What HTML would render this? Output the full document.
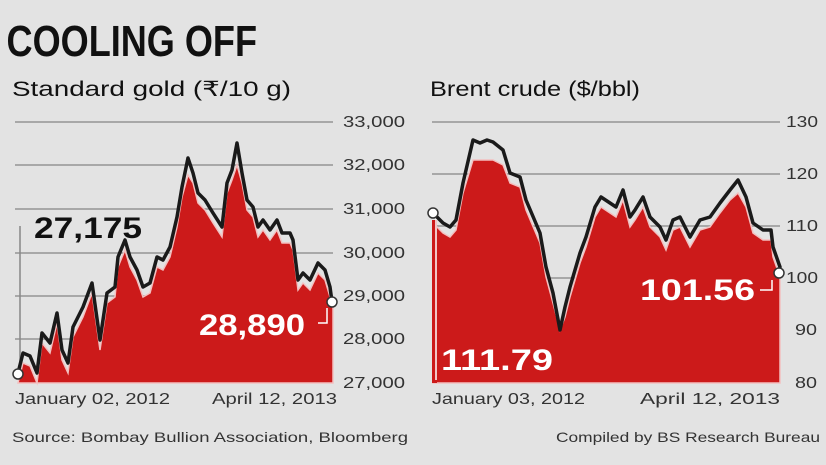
<!DOCTYPE html>
<html><head><style>
body{margin:0;background:#e3e3e3;}
svg{display:block;font-family:"Liberation Sans",sans-serif;}
</style></head><body>
<svg width="826" height="465" viewBox="0 0 826 465">
<rect width="826" height="465" fill="#e3e3e3"/>
<text x="8" y="56" font-size="44" font-weight="bold" fill="#111" transform="scale(0.82,1)">COOLING OFF</text>
<text x="12" y="96" font-size="21" fill="#111" textLength="279" lengthAdjust="spacingAndGlyphs">Standard gold (₹/10 g)</text>
<text x="430" y="96" font-size="21" fill="#111" textLength="210" lengthAdjust="spacingAndGlyphs">Brent crude ($/bbl)</text>
<g stroke="#a8a8a8" stroke-width="2">
<line x1="15" y1="122" x2="333" y2="122"/><line x1="15" y1="165" x2="333" y2="165"/><line x1="15" y1="209" x2="333" y2="209"/><line x1="15" y1="253" x2="333" y2="253"/><line x1="15" y1="296" x2="333" y2="296"/><line x1="15" y1="339" x2="333" y2="339"/>
<line x1="432" y1="122" x2="780" y2="122"/><line x1="432" y1="174" x2="780" y2="174"/><line x1="432" y1="226" x2="780" y2="226"/><line x1="432" y1="278" x2="780" y2="278"/><line x1="432" y1="330" x2="780" y2="330"/>
</g>
<line x1="20" y1="226" x2="20" y2="370" stroke="#888" stroke-width="1.5"/>
<g font-size="16" fill="#333">
<text x="343" y="127" textLength="62" lengthAdjust="spacingAndGlyphs">33,000</text><text x="343" y="170" textLength="62" lengthAdjust="spacingAndGlyphs">32,000</text><text x="343" y="214" textLength="62" lengthAdjust="spacingAndGlyphs">31,000</text><text x="343" y="258" textLength="62" lengthAdjust="spacingAndGlyphs">30,000</text><text x="343" y="301" textLength="62" lengthAdjust="spacingAndGlyphs">29,000</text><text x="343" y="344" textLength="62" lengthAdjust="spacingAndGlyphs">28,000</text><text x="343" y="388" textLength="62" lengthAdjust="spacingAndGlyphs">27,000</text>
<text x="786" y="127" textLength="32" lengthAdjust="spacingAndGlyphs">130</text><text x="786" y="179" textLength="32" lengthAdjust="spacingAndGlyphs">120</text><text x="786" y="231" textLength="32" lengthAdjust="spacingAndGlyphs">110</text><text x="786" y="283" textLength="32" lengthAdjust="spacingAndGlyphs">100</text><text x="795" y="335" textLength="22" lengthAdjust="spacingAndGlyphs">90</text><text x="795" y="388" textLength="22" lengthAdjust="spacingAndGlyphs">80</text>
<text x="15" y="404" textLength="155" lengthAdjust="spacingAndGlyphs">January 02, 2012</text><text x="212" y="404" textLength="125" lengthAdjust="spacingAndGlyphs">April 12, 2013</text>
<text x="432" y="404" textLength="153" lengthAdjust="spacingAndGlyphs">January 03, 2012</text><text x="640" y="404" textLength="140" lengthAdjust="spacingAndGlyphs">April 12, 2013</text>
</g>
<g font-size="14" fill="#333">
<text x="12" y="442" textLength="396" lengthAdjust="spacingAndGlyphs">Source: Bombay Bullion Association, Bloomberg</text>
<text x="556" y="442" textLength="264" lengthAdjust="spacingAndGlyphs">Compiled by BS Research Bureau</text>
</g>
<polygon transform="translate(0,10)" fill="#cc1a1a" stroke="#f3c0c0" stroke-width="1.5" points="18,373 23,353 30,356 37,373 42,333 50,343 57,313 62,350 68,363 73,327 83,307 92,283 100,340 107,293 115,287 118,257 125,240 130,257 137,270 143,287 150,283 157,257 163,260 170,247 177,217 182,187 188,165 193,173 198,193 205,200 213,213 222,227 227,183 232,170 237,155 242,173 247,200 253,207 258,227 263,220 270,230 277,220 282,233 290,233 293,240 298,280 303,273 310,280 318,263 325,270 330,287 333,290 333,373 18,373"/>
<polyline fill="none" stroke="#1a1a1a" stroke-width="3.5" stroke-linejoin="round" points="18,373 23,353 30,356 37,373 42,333 50,343 57,313 62,350 68,363 73,327 83,307 92,283 100,340 107,293 115,287 118,257 125,240 130,257 137,270 143,287 150,283 157,257 163,260 170,247 177,217 182,187 188,158 193,173 198,193 205,200 213,213 222,227 227,183 232,170 237,143 242,173 247,200 253,207 258,227 263,220 270,230 277,220 282,233 290,233 293,240 298,280 303,273 310,280 318,263 325,270 330,287 332,302"/>
<circle cx="18" cy="374" r="5" fill="#fff" stroke="#333" stroke-width="1.5"/>
<circle cx="332" cy="302" r="5" fill="#fff" stroke="#333" stroke-width="1.5"/>
<polyline points="318,323 327,323 327,308" fill="none" stroke="#fff" stroke-width="1.5"/>
<text x="34" y="238" font-size="30" font-weight="bold" fill="#111" textLength="108" lengthAdjust="spacingAndGlyphs">27,175</text>
<text x="199" y="335" font-size="30" font-weight="bold" fill="#fff" textLength="106" lengthAdjust="spacingAndGlyphs">28,890</text>
<polygon transform="translate(0,10)" fill="#cc1a1a" stroke="#f3c0c0" stroke-width="1.5" points="433,213 443,223 450,227 456,220 463,183 473,150 480,150 493,150 503,155 510,173 520,177 526,200 540,233 546,267 553,293 560,320 565,307 570,287 580,253 586,237 595,207 601,197 610,203 616,207 623,190 630,217 635,210 643,197 650,217 660,227 666,240 673,220 680,217 690,237 700,220 710,217 720,203 730,190 738,183 746,197 753,223 763,230 771,230 773,247 780,267 780,373 433,373"/>
<rect x="432" y="220" width="5" height="163" fill="#cc1a1a"/>
<line x1="436" y1="215" x2="436" y2="380" stroke="#fff" stroke-width="1.5"/>
<polyline fill="none" stroke="#1a1a1a" stroke-width="3.5" stroke-linejoin="round" points="433,213 443,223 450,227 456,220 463,183 473,140 480,143 487,140 493,142 503,150 510,173 520,177 526,200 540,233 546,267 553,293 560,330 565,307 570,287 580,253 586,237 595,207 601,197 610,203 616,207 623,190 630,217 635,210 643,197 650,217 660,227 666,240 673,220 680,217 690,237 700,220 710,217 720,203 730,190 738,180 746,197 753,223 763,230 771,230 773,247 780,267 779,273"/>
<circle cx="433" cy="213" r="5" fill="#fff" stroke="#333" stroke-width="1.5"/>
<circle cx="779" cy="273" r="5" fill="#fff" stroke="#333" stroke-width="1.5"/>
<polyline points="760,290 772,290 772,280" fill="none" stroke="#fff" stroke-width="1.5"/>
<text x="640" y="300" font-size="30" font-weight="bold" fill="#fff" textLength="115" lengthAdjust="spacingAndGlyphs">101.56</text>
<text x="441" y="370" font-size="30" font-weight="bold" fill="#fff" textLength="112" lengthAdjust="spacingAndGlyphs">111.79</text>
</svg>
</body></html>
